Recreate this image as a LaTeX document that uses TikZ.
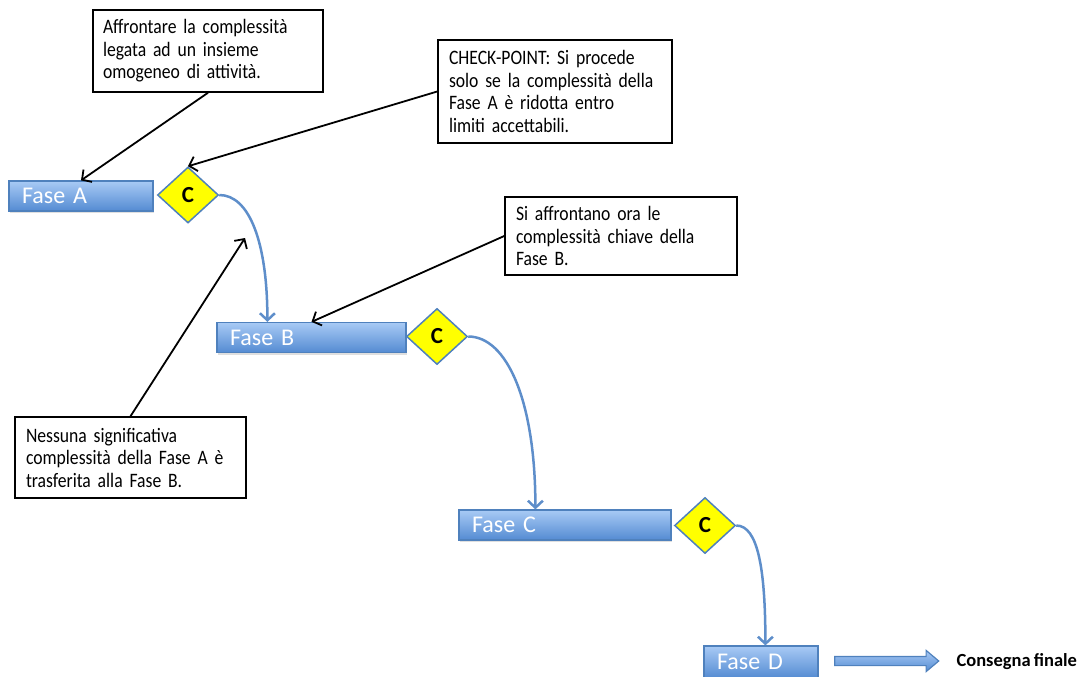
\documentclass[tikz,border=0pt]{standalone}
\usepackage{fontspec}
\setmainfont{Carlito}
\newfontfamily\notefont{Carlito}[FakeStretch=0.86]
\usetikzlibrary{arrows.meta,shapes.geometric,shapes.arrows,shadows,calc}

\definecolor{barTop}{RGB}{168,202,245}
\definecolor{barBot}{RGB}{84,139,210}
\definecolor{barEdge}{RGB}{79,129,189}
\definecolor{flow}{RGB}{94,142,202}
\definecolor{checkFill}{RGB}{255,255,0}

% tight interword spacing for the labels
\newcommand{\tightspace}{\spaceskip=0.17em plus 0.03em\relax}

\tikzset{
  phase/.style={draw=barEdge, line width=1.2pt, top color=barTop, bottom color=barBot,
    minimum height=30pt, inner xsep=13pt, inner ysep=0pt, text=white, align=left,
    font=\fontsize{24}{28}\selectfont\tightspace,
    drop shadow={shadow xshift=1pt, shadow yshift=-2pt, opacity=0.25}},
  check/.style={diamond, draw=barEdge, line width=1.5pt, fill=checkFill, inner sep=0pt,
    minimum width=61pt, minimum height=56pt, font=\bfseries\fontsize{23}{26}\selectfont},
  note/.style={draw=black, line width=1.5pt, fill=white, inner ysep=0pt, align=left,
    font=\notefont\fontsize{20.5}{22.5}\selectfont\tightspace},
  pointer/.style={black, line width=1.8pt, -{Straight Barb[length=7pt,width=15pt]}},
  flowline/.style={flow, line width=2.5pt, -{Straight Barb[length=7pt,width=15pt]}},
  outcome/.style={single arrow, draw=barEdge, line width=1.2pt, top color=barTop, bottom color=barBot,
    minimum width=20pt, single arrow head extend=6pt, single arrow tip angle=80,
    inner sep=4pt, minimum height=104pt}
}

\begin{document}
\begin{tikzpicture}[x=1pt, y=-1pt]
  \useasboundingbox (0,0) rectangle (1085,677);

  % phases
  \node[phase, text width=118pt] (faseA) at (81,196) {Fase A};
  \node[phase, text width=163pt] (faseB) at (311.5,337.5) {Fase B};
  \node[phase, text width=186pt] (faseC) at (565,525) {Fase C};
  \node[phase, text width=88pt, minimum height=32pt] (faseD) at (761,662) {Fase D};

  % check-points
  \node[check] (chkA) at (188,195) {C};
  \node[check] (chkB) at (437,336.5) {C};
  \node[check] (chkC) at (705,525.5) {C};

  % delivery
  \node[outcome] (deliv) at (884,661) {};
  \node[font=\bfseries\fontsize{18.5}{22}\selectfont\tightspace, anchor=west] (final) at (953,662) {Consegna finale};

  % notes
  \node[note, text width=210pt, minimum height=82pt, inner xsep=10pt] (noteA) at (208,51)
    {Affrontare la complessità\\legata ad un insieme\\omogeneo di attività.};
  \node[note, text width=212pt, minimum height=103pt, inner xsep=11pt] (noteCP) at (555,91.5)
    {CHECK-POINT: Si procede\\solo se la complessità della\\Fase A è ridotta entro\\limiti accettabili.};
  \node[note, text width=210pt, minimum height=78pt, inner xsep=11pt] (noteB) at (621,236)
    {Si affrontano ora le\\complessità chiave della\\Fase B.};
  \node[note, text width=209pt, minimum height=81pt, inner xsep=11pt] (noteAB) at (130.5,457.5)
    {Nessuna significativa\\complessità della Fase A è\\trasferita alla Fase B.};

  \coordinate (gapAB) at (245,238);

  % flow between phases
  \draw[flowline] (chkA.east) .. controls +(30,0) and +(0,-80) .. ([xshift=51pt]faseB.north west);
  \draw[flowline] (chkB.east) .. controls +(38,0) and +(0,-110) .. ([xshift=77pt]faseC.north west);
  \draw[flowline] (chkC.east) .. controls +(22,0) and +(0,-75) .. ([xshift=62pt]faseD.north west);

  % pointers from the notes
  \draw[pointer] (noteA.south) -- (faseA.north);
  \draw[pointer] (noteCP.west) -- (chkA.north);
  \draw[pointer] (noteB.west) -- (faseB.north);
  \draw[pointer] (noteAB.north) -- (gapAB);
\end{tikzpicture}
\end{document}
